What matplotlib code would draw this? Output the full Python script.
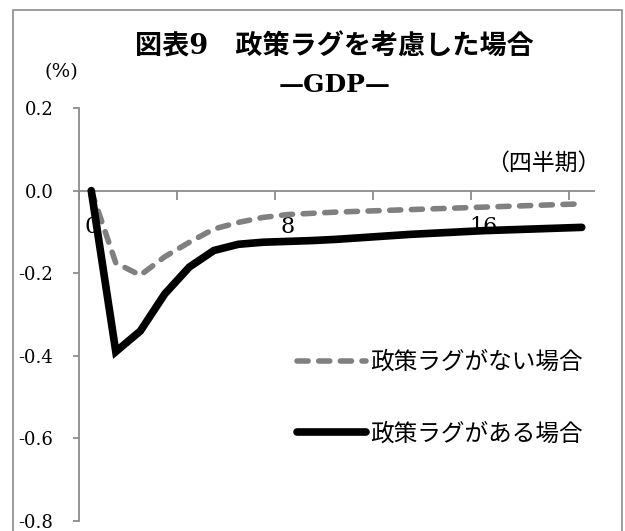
import matplotlib
matplotlib.use("Agg")
import matplotlib.pyplot as plt
import numpy as np
from matplotlib.patches import Rectangle

# 四半期
quarters = list(range(0, 21))
# 政策ラグがない場合
no_lag = [0.0, -0.175, -0.205, -0.16, -0.125, -0.093, -0.077, -0.065, -0.058, -0.055,
          -0.052, -0.050, -0.048, -0.046, -0.044, -0.042, -0.040, -0.038, -0.036, -0.034, -0.032]
# 政策ラグがある場合
with_lag = [0.0, -0.39, -0.34, -0.25, -0.185, -0.145, -0.13, -0.125, -0.123, -0.121,
            -0.118, -0.114, -0.110, -0.106, -0.103, -0.100, -0.097, -0.095, -0.093, -0.091, -0.089]

yticks = [0.2, 0.0, -0.2, -0.4, -0.6, -0.8]
ytick_labels = ["0.2", "0.0", "-0.2", "-0.4", "-0.6", "-0.8"]
xlabel_pos = [0, 8, 16]
xlabel_text = ["0", "8", "16"]

serif = ["DejaVu Serif", "Noto Sans CJK JP"]
cjk = ["Noto Sans CJK JP", "DejaVu Sans"]
axis_gray = "#8c8c8c"

W, H = 625, 531
fig = plt.figure(figsize=(W / 100, H / 100), dpi=100)
ax = fig.add_axes([79 / W, 1 - 521 / H, (594 - 79) / W, 413 / H])

ax.plot(quarters, no_lag, color="#808080", lw=4.0, linestyle=(0, (2.0, 1.9)),
        dash_capstyle="round", solid_capstyle="round", label="政策ラグがない場合", zorder=3)
ax.plot(quarters, with_lag, color="black", lw=5.5, solid_joinstyle="miter",
        solid_capstyle="round", label="政策ラグがある場合", zorder=4)

ax.set_xlim(-0.5, 20.5)
ax.set_ylim(-0.8, 0.2)

for s in ["top", "right"]:
    ax.spines[s].set_visible(False)
ax.spines["bottom"].set_position(("data", 0))
for s in ["left", "bottom"]:
    ax.spines[s].set_color(axis_gray)
    ax.spines[s].set_linewidth(1.3)

ax.set_yticks(yticks)
ax.set_yticklabels(ytick_labels, family=serif, fontsize=13)
ax.tick_params(axis="y", direction="out", length=4.5, width=1.3, color=axis_gray, pad=14)

ax.set_xticks(np.arange(-0.5, 20.5, 4))
ax.set_xticklabels([])
ax.tick_params(axis="x", which="major", direction="out", length=6.5, width=1.3, color=axis_gray)
ax.set_xticks(xlabel_pos, minor=True)
ax.set_xticklabels(xlabel_text, minor=True, family=serif, fontsize=16)
ax.tick_params(axis="x", which="minor", length=0, pad=18)

leg = ax.legend(loc="upper left", bbox_to_anchor=(285 / W, 1 - 339 / H),
                bbox_transform=fig.transFigure, frameon=False, borderpad=0,
                handlelength=2.95, handletextpad=0.15, labelspacing=2.05,
                prop={"family": cjk, "size": 17})

fig.text(334 / W, 1 - 47 / H, "図表9　政策ラグを考慮した場合", ha="center", va="center",
         fontsize=19.5, fontweight="bold", family=serif)
fig.text(335 / W, 1 - 85 / H, "—GDP—", ha="center", va="center",
         fontsize=18, fontweight="bold", family=serif)
fig.text(61 / W, 1 - 72 / H, "(%)", ha="center", va="center", fontsize=14, family=serif)
fig.text(543 / W, 1 - 163 / H, "（四半期）", ha="center", va="center", fontsize=16.5, family=cjk)

fig.patches.append(Rectangle((13 / W, -0.05), (622 - 13) / W, 1 - 10 / H + 0.05,
                             transform=fig.transFigure, fill=False,
                             edgecolor="#8c8c8c", lw=1.2))

fig.savefig("out.png", dpi=100)
